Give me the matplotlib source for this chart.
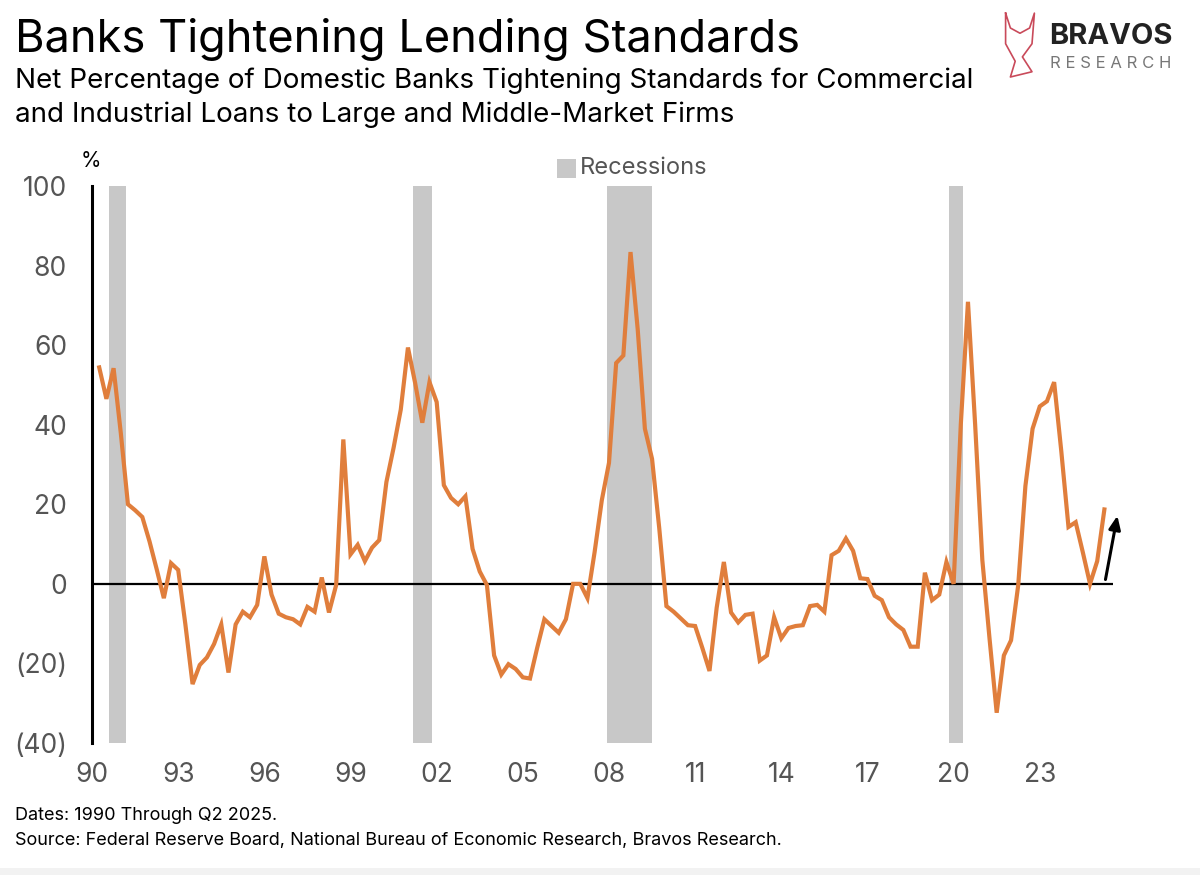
import matplotlib
matplotlib.use("Agg")
from matplotlib import pyplot as plt
from matplotlib.patches import Rectangle

plt.rcParams["font.family"] = ["Inter", "DejaVu Sans"]

# Net % of banks tightening C&I standards, large & middle-market firms, quarterly from 1990 Q2
start_year = 1990.25
values = [
    54.4, 46.5, 54.2, 38.0, 20.0, 18.5, 16.8, 10.7, 3.7, -3.6,
    5.2, 3.5, -10.2, -25.2, -20.4, -18.5, -15.1, -10.2, -22.3, -10.2,
    -7.0, -8.4, -5.3, 6.9, -2.7, -7.5, -8.4, -8.9, -10.2, -5.8,
    -7.0, 1.6, -7.2, -0.3, 36.3, 7.4, 9.8, 5.7, 9.1, 11.0,
    25.6, 34.2, 43.8, 59.4, 50.5, 40.5, 50.7, 45.7, 24.8, 21.6,
    20.0, 22.0, 8.8, 3.1, -0.3, -18.0, -22.8, -20.2, -21.4, -23.5,
    -23.8, -16.1, -8.9, -10.6, -12.3, -8.9, 0.0, 0.0, -3.6, 8.0,
    21.0, 30.4, 55.5, 57.4, 83.4, 64.0, 39.0, 31.4, 14.0, -5.6,
    -7.0, -8.7, -10.4, -10.6, -16.1, -21.9, -6.0, 5.5, -7.2, -9.7,
    -7.8, -7.5, -19.3, -18.0, -8.4, -13.7, -11.1, -10.6, -10.4, -5.6,
    -5.3, -7.0, 7.2, 8.3, 11.4, 8.3, 1.4, 1.2, -3.0, -4.1,
    -8.4, -10.2, -11.6, -15.8, -15.8, 2.8, -4.1, -2.7, 5.5, 0.0,
    40.0, 70.9, 40.0, 6.0, -13.7, -32.4, -18.0, -14.2, -0.3, 24.6,
    39.0, 44.6, 45.9, 50.7, 33.3, 14.3, 15.5, 7.9, 0.0, 5.7,
    18.7,
]
dates = [start_year + 0.25 * i for i in range(len(values))]

# NBER recessions (start, end) in decimal years
recessions = [(1990.58, 1991.17), (2001.17, 2001.83), (2007.92, 2009.5), (2019.83, 2020.33)]

tick_years = [1990, 1993, 1996, 1999, 2002, 2005, 2008, 2011, 2014, 2017, 2020, 2023]
tick_labels = ["90", "93", "96", "99", "02", "05", "08", "11", "14", "17", "20", "23"]
y_ticks = [-40, -20, 0, 20, 40, 60, 80, 100]
y_labels = ["(40)", "(20)", "0", "20", "40", "60", "80", "100"]

orange = "#E07E3C"
band = "#C8C8C8"
grey_text = "#555555"

fig = plt.figure(figsize=(12, 8.75), dpi=100)
ax = fig.add_axes([0.0767, 0.1509, 0.8508, 0.6365])

for s, e in recessions:
    ax.axvspan(s, e, color=band, lw=0, zorder=1)

ax.axhline(0, color="black", lw=1.6, zorder=2)
ax.plot(dates, values, color=orange, lw=3, solid_joinstyle="miter", zorder=3)

# arrow showing the latest move up
ax.annotate("", xy=(2025.72, 17.8), xytext=(2025.27, 0.4),
            arrowprops=dict(arrowstyle="-|>,head_width=0.35,head_length=0.8",
                            color="black", lw=2.2),
            annotation_clip=False, zorder=4)

ax.set_xlim(1990, 2025.55)
ax.set_ylim(-40, 100)
ax.set_xticks(tick_years)
ax.set_xticklabels(tick_labels)
ax.set_yticks(y_ticks)
ax.set_yticklabels(y_labels)
ax.tick_params(axis="both", length=0, labelsize=19, colors=grey_text)
ax.tick_params(axis="y", pad=18)
ax.tick_params(axis="x", pad=14)
for side in ["top", "right", "bottom"]:
    ax.spines[side].set_visible(False)
ax.spines["left"].set_linewidth(2.2)
ax.spines["left"].set_color("black")

# % unit label and legend
fig.text(0.0758, 0.805, "%", fontsize=15, color="black", ha="center", va="bottom")
fig.patches.append(Rectangle((0.4645, 0.797), 0.0152, 0.0215, transform=fig.transFigure,
                             color=band, lw=0))
fig.text(0.4833, 0.808, "Recessions", fontsize=17, color=grey_text, va="center")

# titles
fig.text(0.0125, 0.955, "Banks Tightening Lending Standards", fontsize=32.5,
         color="black", va="center")
fig.text(0.0125, 0.908, "Net Percentage of Domestic Banks Tightening Standards for Commercial",
         fontsize=20, color="black", va="center")
fig.text(0.0125, 0.869, "and Industrial Loans to Large and Middle-Market Firms",
         fontsize=20, color="black", va="center")

# logo
fig.text(0.874, 0.958, "BRAVOS", fontsize=21, fontweight="bold", color="#222222", va="center")
fig.text(0.875, 0.928, "R E S E A R C H", fontsize=12, color="#777777", va="center")
logo = [(0.838, 0.985), (0.842, 0.968), (0.850, 0.962), (0.858, 0.968), (0.862, 0.985),
        (0.860, 0.950), (0.852, 0.935), (0.860, 0.918), (0.842, 0.912), (0.846, 0.930),
        (0.838, 0.950), (0.838, 0.985)]
fig.lines.append(plt.Line2D([p[0] for p in logo], [p[1] for p in logo],
                            transform=fig.transFigure, color="#C94A5A", lw=1.2))

# footnotes
fig.text(0.0125, 0.068, "Dates: 1990 Through Q2 2025.", fontsize=13, color="black", va="center")
fig.text(0.0125, 0.040,
         "Source: Federal Reserve Board, National Bureau of Economic Research, Bravos Research.",
         fontsize=13, color="black", va="center")
fig.patches.append(Rectangle((0, 0), 1, 0.008, transform=fig.transFigure,
                             color="#F2F2F2", lw=0))

plt.savefig("out.png", dpi=100)
